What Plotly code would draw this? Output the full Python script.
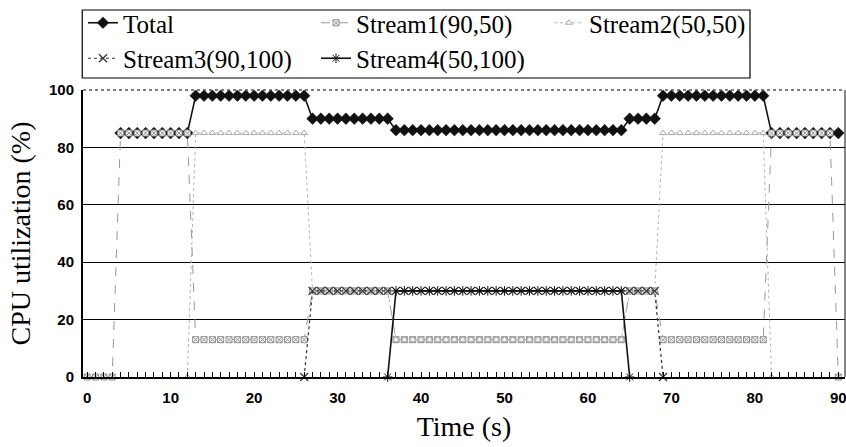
import plotly.graph_objects as go

N = None

time_s = [0, 1, 2, 3, 4, 5, 6, 7, 8, 9,
          10, 11, 12, 13, 14, 15, 16, 17, 18, 19,
          20, 21, 22, 23, 24, 25, 26, 27, 28, 29,
          30, 31, 32, 33, 34, 35, 36, 37, 38, 39,
          40, 41, 42, 43, 44, 45, 46, 47, 48, 49,
          50, 51, 52, 53, 54, 55, 56, 57, 58, 59,
          60, 61, 62, 63, 64, 65, 66, 67, 68, 69,
          70, 71, 72, 73, 74, 75, 76, 77, 78, 79,
          80, 81, 82, 83, 84, 85, 86, 87, 88, 89,
          90]

total = [N, N, N, N, 85, 85, 85, 85, 85, 85,
         85, 85, 85, 98, 98, 98, 98, 98, 98, 98,
         98, 98, 98, 98, 98, 98, 98, 90, 90, 90,
         90, 90, 90, 90, 90, 90, 90, 86, 86, 86,
         86, 86, 86, 86, 86, 86, 86, 86, 86, 86,
         86, 86, 86, 86, 86, 86, 86, 86, 86, 86,
         86, 86, 86, 86, 86, 90, 90, 90, 90, 98,
         98, 98, 98, 98, 98, 98, 98, 98, 98, 98,
         98, 98, 85, 85, 85, 85, 85, 85, 85, 85,
         85]

stream1 = [0, 0, 0, 0, 85, 85, 85, 85, 85, 85,
           85, 85, 85, 13, 13, 13, 13, 13, 13, 13,
           13, 13, 13, 13, 13, 13, 13, 30, 30, 30,
           30, 30, 30, 30, 30, 30, 30, 13, 13, 13,
           13, 13, 13, 13, 13, 13, 13, 13, 13, 13,
           13, 13, 13, 13, 13, 13, 13, 13, 13, 13,
           13, 13, 13, 13, 13, 30, 30, 30, 30, 13,
           13, 13, 13, 13, 13, 13, 13, 13, 13, 13,
           13, 13, 85, 85, 85, 85, 85, 85, 85, 85,
           0]

stream2 = [N, N, N, N, N, N, N, N, N, N,
           N, N, 0, 85, 85, 85, 85, 85, 85, 85,
           85, 85, 85, 85, 85, 85, 85, 30, 30, 30,
           30, 30, 30, 30, 30, 30, 30, 13, 13, 13,
           13, 13, 13, 13, 13, 13, 13, 13, 13, 13,
           13, 13, 13, 13, 13, 13, 13, 13, 13, 13,
           13, 13, 13, 13, 13, 30, 30, 30, 30, 85,
           85, 85, 85, 85, 85, 85, 85, 85, 85, 85,
           85, 85, 0, N, N, N, N, N, N, N,
           N]

stream3 = [N, N, N, N, N, N, N, N, N, N,
           N, N, N, N, N, N, N, N, N, N,
           N, N, N, N, N, N, 0, 30, 30, 30,
           30, 30, 30, 30, 30, 30, 30, 30, 30, 30,
           30, 30, 30, 30, 30, 30, 30, 30, 30, 30,
           30, 30, 30, 30, 30, 30, 30, 30, 30, 30,
           30, 30, 30, 30, 30, 30, 30, 30, 30, 0,
           N, N, N, N, N, N, N, N, N, N,
           N, N, N, N, N, N, N, N, N, N,
           N]

stream4 = [N, N, N, N, N, N, N, N, N, N,
           N, N, N, N, N, N, N, N, N, N,
           N, N, N, N, N, N, N, N, N, N,
           N, N, N, N, N, N, 0, 30, 30, 30,
           30, 30, 30, 30, 30, 30, 30, 30, 30, 30,
           30, 30, 30, 30, 30, 30, 30, 30, 30, 30,
           30, 30, 30, 30, 30, 0, N, N, N, N,
           N, N, N, N, N, N, N, N, N, N,
           N, N, N, N, N, N, N, N, N, N,
           N]

series_names = ["Total", "Stream1(90,50)", "Stream2(50,50)",
                "Stream3(90,100)", "Stream4(50,100)"]

x_tick_vals = [0, 10, 20, 30, 40, 50, 60, 70, 80, 90]
x_tick_text = ["0", "10", "20", "30", "40", "50", "60", "70", "80", "90"]
y_tick_vals = [0, 20, 40, 60, 80, 100]
y_tick_text = ["0", "20", "40", "60", "80", "100"]
y_grid_vals = [20, 40, 60, 80]

SERIF = "Liberation Serif"
TICKFONT = dict(family="Liberation Sans", size=15, color="black", weight="bold")

fig = go.Figure()

fig.add_trace(go.Scatter(
    x=time_s, y=total, name=series_names[0], mode="lines+markers",
    line=dict(color="#111111", width=1.6),
    marker=dict(symbol="diamond", size=9, color="#111111",
                line=dict(color="#111111", width=0.5)),
))
fig.add_trace(go.Scatter(
    x=time_s, y=stream1, name=series_names[1], mode="lines+markers",
    line=dict(color="#999999", width=1, dash="dash"),
    marker=dict(symbol="square-x", size=6, color="white",
                line=dict(color="#8c8c8c", width=1)),
    cliponaxis=False,
))
fig.add_trace(go.Scatter(
    x=time_s, y=stream2, name=series_names[2], mode="lines+markers",
    line=dict(color="#b5b5b5", width=1, dash="dot"),
    marker=dict(symbol="triangle-up", size=6, color="white",
                line=dict(color="#a8a8a8", width=1)),
    cliponaxis=False,
))
fig.add_trace(go.Scatter(
    x=time_s, y=stream3, name=series_names[3], mode="lines+markers",
    line=dict(color="#333333", width=1.2, dash="dot"),
    marker=dict(symbol="x-thin-open", size=8,
                line=dict(color="#333333", width=1.2)),
    cliponaxis=False,
))
fig.add_trace(go.Scatter(
    x=time_s, y=stream4, name=series_names[4], mode="lines+markers",
    line=dict(color="#111111", width=1.6),
    marker=dict(symbol="asterisk-open", size=8,
                line=dict(color="#222222", width=1)),
    cliponaxis=False,
))

fig.update_layout(
    width=846, height=447,
    margin=dict(l=83, r=1, t=90, b=70, pad=0),
    paper_bgcolor="white", plot_bgcolor="white",
    font=dict(family=SERIF, size=25, color="black"),
    showlegend=True,
    legend=dict(
        orientation="h", x=0, xanchor="left", xref="paper",
        y=1.0, yanchor="top", yref="container",
        bgcolor="rgba(0,0,0,0)", borderwidth=0,
        entrywidth=188, entrywidthmode="pixels", itemwidth=30,
        font=dict(family=SERIF, size=25, color="black"),
        tracegroupgap=0,
    ),
    xaxis=dict(
        range=[-0.5, 90.8], automargin=False,
        tickmode="array", tickvals=x_tick_vals, ticktext=x_tick_text,
        ticks="inside", ticklen=5, tickcolor="black", tickwidth=1,
        minor=dict(ticks="inside", ticklen=5, tickcolor="black",
                   tickmode="linear", tick0=0, dtick=1, showgrid=False),
        showline=True, linecolor="black", linewidth=1.5,
        showgrid=False, zeroline=False,
        tickfont=TICKFONT, ticklabelstandoff=6, ticklabeloverflow="allow",
        title=dict(text="Time (s)", font=dict(family=SERIF, size=28),
                   standoff=12),
    ),
    yaxis=dict(
        range=[0, 100], automargin=False,
        tickmode="array", tickvals=y_tick_vals, ticktext=y_tick_text,
        ticks="", showline=True, linecolor="black", linewidth=2,
        showgrid=False, zeroline=False,
        minor=dict(tickmode="array", tickvals=y_grid_vals, ticks="",
                   showgrid=True, gridcolor="black", gridwidth=1.3),
        tickfont=TICKFONT, ticklabelstandoff=4,
        title=dict(text="CPU utilization (%)", font=dict(family=SERIF, size=28),
                   standoff=10),
    ),
    shapes=[
        # legend frame
        dict(type="rect", xref="paper", yref="paper",
             x0=-0.001, x1=0.8753, y0=1.0418, y1=1.2787,
             line=dict(color="black", width=1.2), fillcolor="rgba(0,0,0,0)",
             layer="above"),
        # dotted top frame and right frame of the plot area
        dict(type="line", xref="paper", yref="paper", x0=0, x1=1, y0=1, y1=1,
             line=dict(color="#555555", width=1.5, dash="dot"), layer="above"),
        dict(type="line", xref="paper", yref="paper", x0=1, x1=1, y0=0, y1=1,
             line=dict(color="#333333", width=1.2), layer="above"),
    ],
)

fig.write_html("out.html", config={"displayModeBar": False},
               post_script="document.body.style.margin='0px';")
